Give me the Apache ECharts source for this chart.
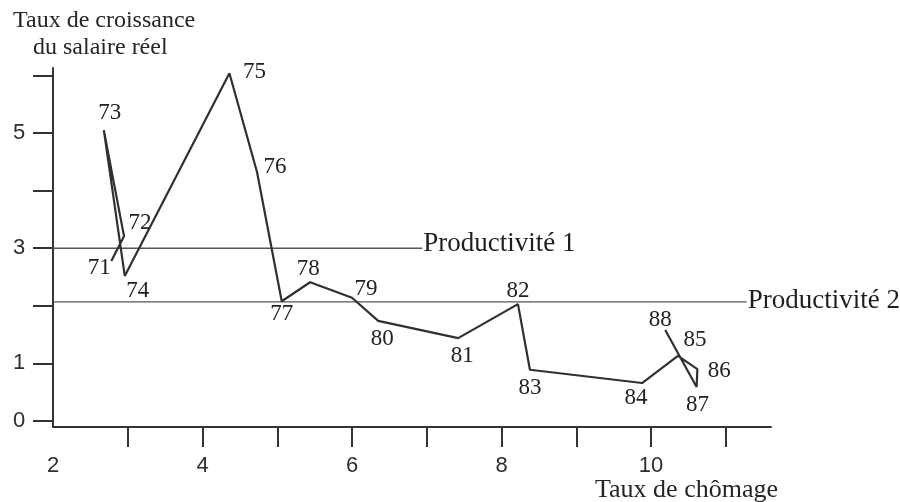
<!DOCTYPE html>
<html>
<head>
<meta charset="utf-8">
<script src="https://cdn.jsdelivr.net/npm/echarts@6/dist/echarts.min.js"></script>
<style>
html,body{margin:0;padding:0;background:#fff;}
#chart{width:900px;height:502px;}
</style>
</head>
<body>
<div id="chart"></div>
<script>
// ---- data ----
const years = ['71','72','73','74','75','76','77','78','79','80','81','82','83','84','85','86','87','88'];
const unemployment = [2.78,2.95,2.68,2.96,4.36,4.73,5.06,5.44,6.00,6.35,7.42,8.22,8.38,9.88,10.36,10.62,10.61,10.19];
const wageGrowth   = [2.78,3.21,5.05,2.52,6.04,4.32,2.08,2.41,2.14,1.74,1.44,2.03,0.89,0.66,1.13,0.90,0.59,1.58];
const productivity1 = 3.0;
const productivity2 = 2.07;
const productivity1Span = [2, 6.94];
const productivity2Span = [2, 11.28];
const xTickValues = [3,4,5,6,7,8,9,10,11];
const xLabelValues = [2,4,6,8,10];
const yTickValues = [0,1,2,3,4,5,6];
const yLabelValues = [0,1,3,5];

// ---- label placement (style only, pixel nudges from each point) ----
const labelOffsets = {
  '71':[-12,7],'72':[16,-13],'73':[6,-17],'74':[13,15],'75':[25,-1],'76':[18,-5],
  '77':[0,13],'78':[-2,-13],'79':[14,-9],'80':[4,18],'81':[4,18],'82':[0,-13],
  '83':[0,18],'84':[-6,15],'85':[17,-16],'86':[22,2],'87':[1,18],'88':[-5,-10]
};

const serif = '"Liberation Serif","DejaVu Serif",serif';
const sans = '"Liberation Sans","DejaVu Sans",sans-serif';
const ink = '#303030';

const points = years.map((y,i)=>[unemployment[i], wageGrowth[i]]);

const chart = echarts.init(document.getElementById('chart'), null, {renderer:'canvas'});
chart.setOption({
  backgroundColor:'#ffffff',
  animation:false,
  grid:{left:53, right:129, top:68, bottom:75, containLabel:false},
  xAxis:{
    type:'value', min:2, max:11.605,
    splitLine:{show:false},
    axisLine:{show:true, onZero:false, lineStyle:{color:'#333', width:2}},
    axisTick:{show:true, length:20, lineStyle:{color:'#333', width:2}, customValues:xTickValues},
    axisLabel:{show:true, customValues:xLabelValues, margin:39, verticalAlign:'middle',
      fontFamily:sans, fontSize:22, color:'#2e2e2e'}
  },
  yAxis:{
    type:'value', min:-0.104, max:6.13,
    splitLine:{show:false},
    axisLine:{show:true, onZero:false, lineStyle:{color:'#333', width:2}},
    axisTick:{show:true, length:20, lineStyle:{color:'#333', width:2}, customValues:yTickValues},
    axisLabel:{show:true, customValues:yLabelValues, margin:34, align:'center', verticalAlign:'middle',
      fontFamily:sans, fontSize:22, color:'#2e2e2e'}
  },
  graphic:[
    {type:'text', left:13, top:9, style:{text:'Taux de croissance', font:'24px '+serif, fill:'#262626'}},
    {type:'text', left:33, top:36, style:{text:'du salaire réel', font:'24px '+serif, fill:'#262626'}},
    {type:'text', left:595, top:477, style:{text:'Taux de chômage', font:'26px '+serif, fill:'#262626'}}
  ],
  series:[
    {
      type:'line', name:'Productivité 1',
      data:productivity1Span.map(x=>[x, productivity1]),
      symbol:'none', lineStyle:{color:'#555', width:1.3}, silent:true,
      endLabel:{show:true, formatter:'Productivité 1', fontFamily:serif, fontSize:27, color:'#1e1e1e', distance:1, offset:[0,-4]}
    },
    {
      type:'line', name:'Productivité 2',
      data:productivity2Span.map(x=>[x, productivity2]),
      symbol:'none', lineStyle:{color:'#555', width:1.3}, silent:true,
      endLabel:{show:true, formatter:'Productivité 2', fontFamily:serif, fontSize:27, color:'#1e1e1e', distance:1, offset:[0,-1]}
    },
    {
      type:'line', name:'salaire',
      data:points,
      symbol:'none',
      lineStyle:{color:ink, width:2.2}
    },
    {
      type:'custom', name:'années',
      data:points,
      silent:true,
      renderItem:function(params, api){
        const c = api.coord([api.value(0), api.value(1)]);
        const y = years[params.dataIndex];
        const o = labelOffsets[y];
        return {
          type:'text',
          x:c[0]+o[0], y:c[1]+o[1],
          style:{text:y, font:'23px '+serif, fill:'#222', align:'center', verticalAlign:'middle'}
        };
      }
    }
  ]
});
</script>
</body>
</html>
